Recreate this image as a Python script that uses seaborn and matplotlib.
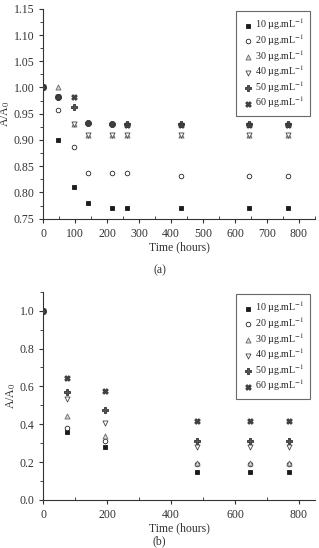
import numpy as np
import seaborn as sns
import matplotlib.pyplot as plt
from matplotlib.ticker import MultipleLocator

# ---- datos (a) ----
t_a = [0, 45, 95, 140, 215, 262, 430, 645, 765]
a_10 = [1.00, 0.900, 0.810, 0.780, 0.770, 0.770, 0.770, 0.770, 0.770]
a_20 = [1.00, 0.957, 0.886, 0.837, 0.837, 0.837, 0.832, 0.832, 0.832]
a_30 = [1.00, 1.000, 0.930, 0.910, 0.910, 0.910, 0.910, 0.910, 0.910]
a_40 = [1.00, 0.982, 0.930, 0.910, 0.910, 0.910, 0.910, 0.910, 0.910]
a_50 = [1.00, 0.982, 0.962, 0.932, 0.930, 0.930, 0.930, 0.930, 0.930]
a_60 = [1.00, 0.982, 0.982, 0.932, 0.930, 0.928, 0.928, 0.928, 0.928]

# ---- datos (b) ----
t_b = [0, 73, 193, 481, 648, 769]
b_10 = [1.00, 0.360, 0.280, 0.150, 0.150, 0.150]
b_20 = [1.00, 0.380, 0.312, 0.190, 0.190, 0.190]
b_30 = [1.00, 0.442, 0.340, 0.195, 0.195, 0.195]
b_40 = [1.00, 0.533, 0.407, 0.280, 0.280, 0.280]
b_50 = [1.00, 0.572, 0.474, 0.310, 0.310, 0.310]
b_60 = [1.00, 0.646, 0.578, 0.418, 0.418, 0.418]

labels = ['10 µg.mL$^{-1}$', '20 µg.mL$^{-1}$', '30 µg.mL$^{-1}$',
          '40 µg.mL$^{-1}$', '50 µg.mL$^{-1}$', '60 µg.mL$^{-1}$']

# estilo de cada serie: marcador, relleno, borde
estilos = [
    dict(marker='s', facecolor='#1a1a1a', edgecolor='#1a1a1a', s=11),
    dict(marker='o', facecolor='white', edgecolor='#222222', s=11),
    dict(marker='^', facecolor='#d8d8d8', edgecolor='#666666', s=13),
    dict(marker='v', facecolor='white', edgecolor='#444444', s=13),
    dict(marker='P', facecolor='#555555', edgecolor='#333333', s=16),
    dict(marker='X', facecolor='#444444', edgecolor='#333333', s=16),
]

sns.set_style('ticks')
plt.rcParams['font.family'] = ['Liberation Serif', 'DejaVu Serif']
plt.rcParams['mathtext.fontset'] = 'stix'

fig = plt.figure(figsize=(3.19, 5.48), dpi=100)
ax1 = fig.add_axes([0.136, 0.601, 0.851, 0.383])
ax2 = fig.add_axes([0.136, 0.0876, 0.851, 0.380])

def dibujar(ax, t, series):
    for y, lab, st in zip(series, labels, estilos):
        sns.scatterplot(x=t, y=y, ax=ax, marker=st['marker'], s=st['s'],
                        facecolor=st['facecolor'], edgecolor=st['edgecolor'],
                        linewidth=0.6, label=lab, clip_on=True, zorder=3)
    leg = ax.legend(loc='upper right', fontsize=7.2, frameon=True, fancybox=False,
                    handletextpad=0.1, labelspacing=0.0, borderpad=0.6,
                    handlelength=1.2, borderaxespad=0.2,
                    bbox_to_anchor=(0.99, 1.0))
    leg.get_frame().set_edgecolor('#444444')
    leg.get_frame().set_linewidth(0.8)
    for sp in ['top', 'right']:
        ax.spines[sp].set_visible(False)
    for sp in ['left', 'bottom']:
        ax.spines[sp].set_linewidth(0.8)
        ax.spines[sp].set_color('#333333')
    ax.tick_params(labelsize=8.5, colors='#333333', width=0.8, length=3)
    ax.tick_params(which='minor', width=0.6, length=2)
    ax.tick_params(axis='x', which='minor', direction='in')
    ax.set_xlabel('Time (hours)', fontsize=8.5, color='#333333', labelpad=1)
    ax.set_ylabel('A/A$_0$', fontsize=8.5, color='#333333', labelpad=1)

dibujar(ax1, t_a, [a_10, a_20, a_30, a_40, a_50, a_60])
ax1.set_xlim(0, 850)
ax1.set_ylim(0.75, 1.15)
ax1.xaxis.set_major_locator(MultipleLocator(100))
ax1.xaxis.set_minor_locator(MultipleLocator(50))
ax1.yaxis.set_major_locator(MultipleLocator(0.05))
ax1.yaxis.set_minor_locator(MultipleLocator(0.025))
ax1.yaxis.set_major_formatter(plt.FormatStrFormatter('%.2f'))

dibujar(ax2, t_b, [b_10, b_20, b_30, b_40, b_50, b_60])
ax2.set_xlim(0, 850)
ax2.set_ylim(0.0, 1.1)
ax2.xaxis.set_major_locator(MultipleLocator(200))
ax2.xaxis.set_minor_locator(MultipleLocator(100))
ax2.yaxis.set_major_locator(MultipleLocator(0.2))
ax2.yaxis.set_minor_locator(MultipleLocator(0.1))
ax2.yaxis.set_major_formatter(plt.FormatStrFormatter('%.1f'))

fig.text(0.5, 1 - 270 / 548, '(a)', ha='center', va='center', fontsize=8.5, color='#333333')
fig.text(0.5, 0.001, '(b)', ha='center', va='bottom', fontsize=8.5, color='#333333')

fig.savefig('out.png', dpi=100)
